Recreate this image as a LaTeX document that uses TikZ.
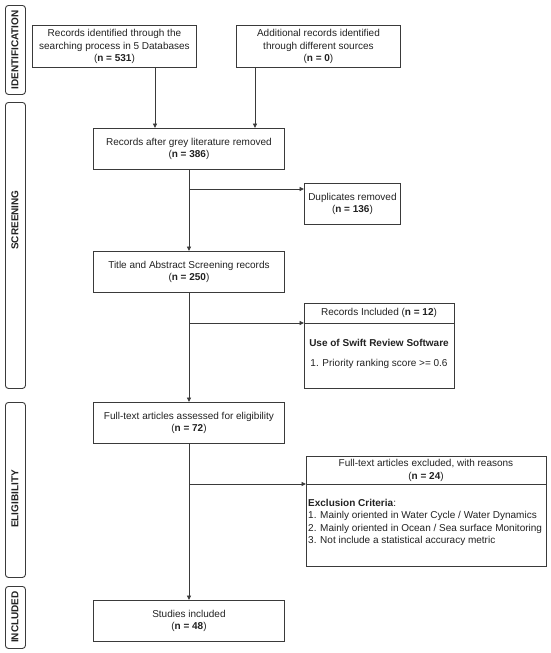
\documentclass[tikz,border=0pt]{standalone}
\usepackage{fontspec}
\setmainfont{Liberation Sans}
\usetikzlibrary{arrows.meta}
\definecolor{ln}{HTML}{3A3A3A}
\definecolor{tx}{HTML}{222222}
\begin{document}
\begin{tikzpicture}[x=1pt,y=-1pt,
  box/.style={draw=ln, line width=0.9pt, rectangle, inner sep=0pt, anchor=north west,
    align=center, text=tx, font=\fontsize{10}{12.5}\selectfont},
  side/.style={draw=ln, line width=0.9pt, rounded corners=3pt, inner sep=0pt, anchor=north west,
    minimum width=20pt},
  sidetxt/.style={rotate=90, text=tx, font=\bfseries\fontsize{10}{12}\selectfont, inner sep=0pt},
  txt/.style={text=tx, font=\fontsize{10}{12.5}\selectfont, inner sep=0pt},
  arr/.style={draw=ln, line width=0.9pt, -{Triangle[length=4.5pt,width=4pt]}},
  ln/.style={draw=ln, line width=0.9pt}]
\useasboundingbox (0,0) rectangle (550,653);
\fill[white] (0,0) rectangle (550,653);

% side labels
\node[side, minimum height=89pt] (sid) at (5,5) {};
\node[sidetxt] (tid) at (15,50) {IDENTIFICATION};
\node[side, minimum height=286pt] (sscr) at (5,102) {};
\node[sidetxt] (tscr) at (15,220) {SCREENING};
\node[side, minimum height=175pt] (seli) at (5,402) {};
\node[sidetxt] (teli) at (15,499) {ELIGIBILITY};
\node[side, minimum height=62pt] (sinc) at (5,586) {};
\node[sidetxt] (tinc) at (15,617) {INCLUDED};

% boxes
\node[box, minimum width=164pt, minimum height=42pt] (b1) at (32,25)
  {Records identified through the\\searching process in 5 Databases\\(\textbf{n = 531})};
\node[box, minimum width=164pt, minimum height=42pt] (b2) at (236,25)
  {Additional records identified\\through different sources\\(\textbf{n = 0})};
\node[box, minimum width=191pt, minimum height=41pt] (b3) at (93,128)
  {Records after grey literature removed\\(\textbf{n = 386})};
\node[box, minimum width=96pt, minimum height=41pt] (dup) at (304,183)
  {Duplicates removed\\(\textbf{n = 136})};
\node[box, minimum width=191pt, minimum height=41pt] (b4) at (93,251)
  {Title and Abstract Screening records\\(\textbf{n = 250})};
\node[box, minimum width=150pt, minimum height=85pt] (inc) at (304,303) {};
\node[box, minimum width=191pt, minimum height=41pt] (b5) at (93,402)
  {Full-text articles assessed for eligibility\\(\textbf{n = 72})};
\node[box, minimum width=240pt, minimum height=110pt] (exc) at (306,456) {};
\node[box, minimum width=191pt, minimum height=41pt] (b6) at (93,600)
  {Studies included\\(\textbf{n = 48})};

% split box contents
\coordinate (d1) at (304,323);
\draw[ln] (d1) -- (d1 -| inc.east);
\node[txt] (inct) at (379,313) {Records Included (\textbf{n = 12})};
\node[txt] (incb) at (379,343) {\textbf{Use of Swift Review Software}};
\node[txt] (incc) at (379,364) {1. Priority ranking score >= 0.6};

\coordinate (d2) at (306,484);
\draw[ln] (d2) -- (d2 -| exc.east);
\node[txt, align=center] (exct) at (426,470.5) {Full-text articles excluded, with reasons\\(\textbf{n = 24})};
\node[txt, align=left, anchor=north west] (excb) at (308,499)
  {\textbf{Exclusion Criteria}:\\
   1. Mainly oriented in Water Cycle / Water Dynamics\\
   2. Mainly oriented in Ocean / Sea surface Monitoring\\
   3. Not include a statistical accuracy metric};

% connectors
\coordinate (c1) at (155,0);
\coordinate (c2) at (255,0);
\coordinate (m) at (189,0);
\draw[arr] (b1.south -| c1) -- (b3.north -| c1);
\draw[arr] (b2.south -| c2) -- (b3.north -| c2);
\draw[arr] (b3.south -| m) -- (b4.north -| m);
\draw[arr] (b4.south -| m) -- (b5.north -| m);
\draw[arr] (b5.south -| m) -- (b6.north -| m);
\coordinate (br1) at (189,189);
\coordinate (br2) at (189,323);
\coordinate (br3) at (189,484);
\draw[arr] (br1) -- (br1 -| dup.west);
\draw[arr] (br2) -- (br2 -| inc.west);
\draw[arr] (br3) -- (br3 -| exc.west);
\end{tikzpicture}
\end{document}
